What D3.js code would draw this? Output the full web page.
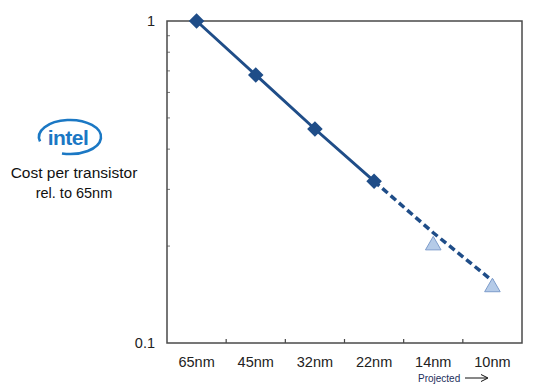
<!DOCTYPE html>
<html>
<head>
<meta charset="utf-8">
<script src="https://cdn.jsdelivr.net/npm/d3@7"></script>
<style>
  html, body { margin: 0; padding: 0; background: #fff; }
  svg { display: block; font-family: "Liberation Sans", Arial, sans-serif; }
</style>
</head>
<body>
<svg id="chart" width="542" height="389"></svg>
<script>
// node names along the x axis
const nodes = ["65nm", "45nm", "32nm", "22nm", "14nm", "10nm"];

// cost per transistor relative to 65nm
const actualNodes = ["65nm", "45nm", "32nm", "22nm"];
const actualCost = [1, 0.68, 0.462, 0.318];

const trendNodes = ["22nm", "14nm", "10nm"];
const trendCost = [0.318, 0.22, 0.156];

const projNodes = ["14nm", "10nm"];
const projCost = [0.201, 0.149];

const yMinorTicks = [0.2, 0.3, 0.4, 0.5, 0.6, 0.7, 0.8, 0.9];
const yLabels = [0.1, 1];

const DARK = "#1f4d88";

const svg = d3.select("#chart");

const plotLeft = 167, plotRight = 522, plotTop = 21, plotBottom = 343;

const x = d3.scaleBand().domain(nodes).range([plotLeft, plotRight]).padding(0);
const y = d3.scaleLog().domain([0.1, 1]).range([plotBottom, plotTop]);
const cx = d => x(d) + x.bandwidth() / 2;

// minor ticks on the y axis (pointing inward)
svg.append("g")
  .selectAll("line")
  .data(yMinorTicks)
  .join("line")
  .attr("x1", plotLeft).attr("x2", plotLeft + 3)
  .attr("y1", d => y(d)).attr("y2", d => y(d))
  .attr("stroke", "#777").attr("stroke-width", 1);

// x ticks at band boundaries (pointing up)
svg.append("g")
  .selectAll("line")
  .data(nodes.slice(1))
  .join("line")
  .attr("x1", d => x(d)).attr("x2", d => x(d))
  .attr("y1", plotBottom).attr("y2", plotBottom - 4)
  .attr("stroke", "#444").attr("stroke-width", 1.2);

// frame
svg.append("rect")
  .attr("x", plotLeft).attr("y", plotTop)
  .attr("width", plotRight - plotLeft).attr("height", plotBottom - plotTop)
  .attr("fill", "none").attr("stroke", "#4a4a4a").attr("stroke-width", 1.5);

// y labels
svg.append("g")
  .selectAll("text")
  .data(yLabels)
  .join("text")
  .attr("x", plotLeft - 12)
  .attr("y", d => y(d))
  .attr("dy", "0.36em")
  .attr("text-anchor", "end")
  .attr("font-size", 14.5)
  .attr("fill", "#222")
  .text(d => d);

// x labels
svg.append("g")
  .selectAll("text")
  .data(nodes)
  .join("text")
  .attr("x", d => cx(d))
  .attr("y", 367)
  .attr("text-anchor", "middle")
  .attr("font-size", 14.5)
  .attr("fill", "#222")
  .text(d => d);

// projected note
svg.append("text")
  .attr("x", 418).attr("y", 382)
  .attr("font-size", 10)
  .attr("fill", "#1c2f5c")
  .text("Projected");
svg.append("line")
  .attr("x1", 465).attr("x2", 487)
  .attr("y1", 378).attr("y2", 378)
  .attr("stroke", "#111").attr("stroke-width", 1);
svg.append("path")
  .attr("d", "M481,374.5 L488,378 L481,381.5")
  .attr("fill", "none").attr("stroke", "#111").attr("stroke-width", 1);

// lines
const line = d3.line().x(d => cx(d[0])).y(d => y(d[1]));

svg.append("path")
  .datum(d3.zip(trendNodes, trendCost))
  .attr("d", line)
  .attr("fill", "none")
  .attr("stroke", DARK)
  .attr("stroke-width", 3.5)
  .attr("stroke-dasharray", "7,4");

svg.append("path")
  .datum(d3.zip(actualNodes, actualCost))
  .attr("d", line)
  .attr("fill", "none")
  .attr("stroke", DARK)
  .attr("stroke-width", 3);

// diamond markers
svg.append("g")
  .selectAll("path")
  .data(d3.zip(actualNodes, actualCost))
  .join("path")
  .attr("transform", d => `translate(${cx(d[0])},${y(d[1])}) rotate(45)`)
  .attr("d", "M-5.5,-5.5H5.5V5.5H-5.5Z")
  .attr("fill", DARK);

// triangle markers
svg.append("g")
  .selectAll("path")
  .data(d3.zip(projNodes, projCost))
  .join("path")
  .attr("transform", d => `translate(${cx(d[0])},${y(d[1])})`)
  .attr("d", d3.symbol(d3.symbolTriangle, 105))
  .attr("fill", "#b5cbe8")
  .attr("stroke", "#7d9ccb")
  .attr("stroke-width", 1);

// intel logo
const logo = svg.append("g");
const lcx = 70, lcy = 137, rx = 31, ry = 17;
const pt = a => [lcx + rx * Math.cos(a * Math.PI / 180), lcy + ry * Math.sin(a * Math.PI / 180)];
const p0 = pt(165), p1 = pt(105);
logo.append("path")
  .attr("d", `M${p0[0]},${p0[1]} A${rx},${ry} 0 1 1 ${p1[0]},${p1[1]}`)
  .attr("fill", "none")
  .attr("stroke", "#1b78c4")
  .attr("stroke-width", 2.6);
logo.append("text")
  .attr("x", 68).attr("y", 145)
  .attr("text-anchor", "middle")
  .attr("font-size", 21)
  .attr("font-weight", "bold")
  .attr("letter-spacing", -0.5)
  .attr("fill", "#1b78c4")
  .text("intel");

// y caption
svg.append("text")
  .attr("x", 74).attr("y", 178)
  .attr("text-anchor", "middle")
  .attr("font-size", 15.5)
  .attr("fill", "#111")
  .text("Cost per transistor");
svg.append("text")
  .attr("x", 74).attr("y", 198)
  .attr("text-anchor", "middle")
  .attr("font-size", 14.5)
  .attr("fill", "#111")
  .text("rel. to 65nm");
</script>
</body>
</html>
